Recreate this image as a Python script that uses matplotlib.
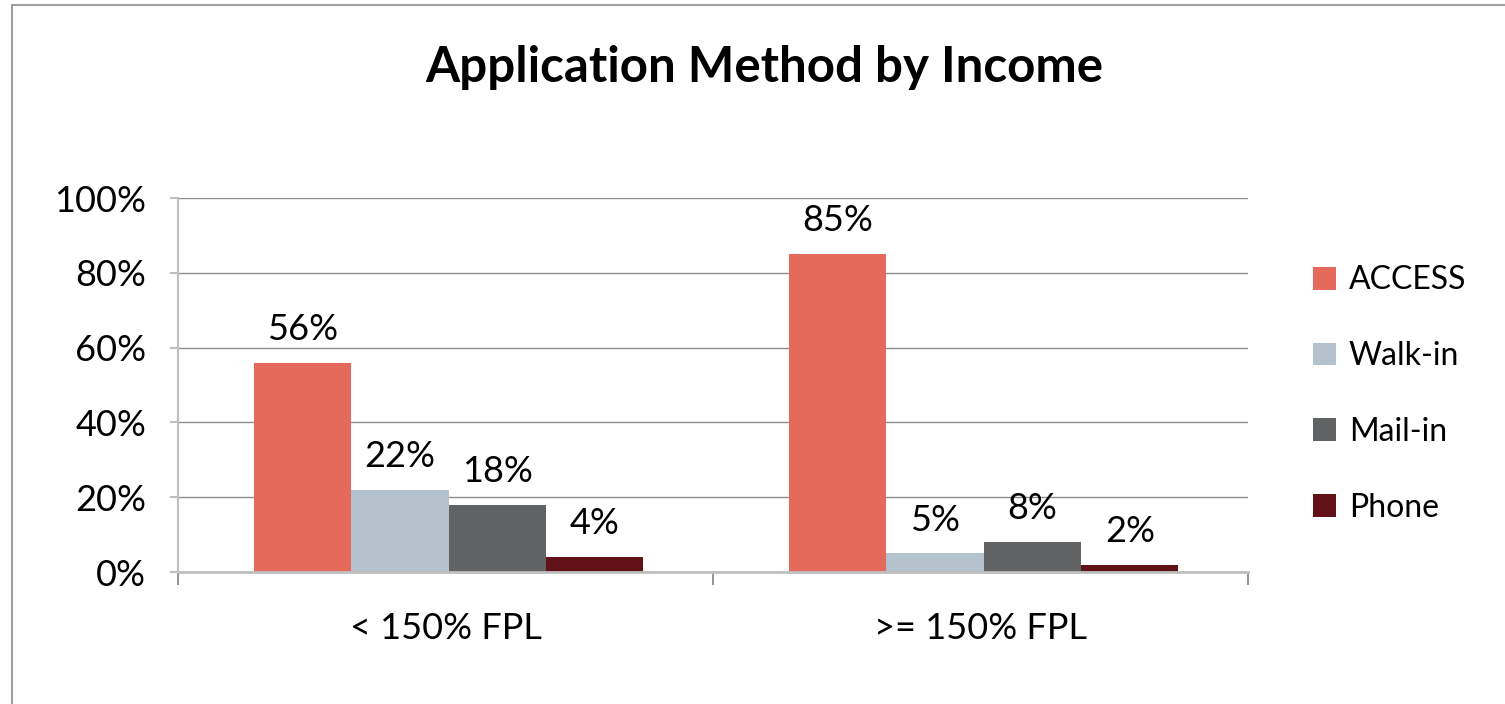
import numpy as np
import matplotlib
matplotlib.use("Agg")
import matplotlib.pyplot as plt
from matplotlib.patches import Rectangle

plt.rcParams['font.family'] = ['Lato', 'DejaVu Sans']

# data
groups = ["< 150% FPL", ">= 150% FPL"]
methods = ["ACCESS", "Walk-in", "Mail-in", "Phone"]
access = [0.56, 0.85]
walk_in = [0.22, 0.05]
mail_in = [0.18, 0.08]
phone = [0.04, 0.02]
colors = ["#E66A5B", "#B4C2CE", "#616264", "#621216"]

series = [access, walk_in, mail_in, phone]

fig = plt.figure(figsize=(15.05, 7.04), dpi=100)
ax = fig.add_axes([178/1505, 1-572/704, (1248-178)/1505, (572-198)/704])

# chart border (only left and top visible in the picture)
fig.patches.append(Rectangle((12/1505, -0.1), 1.2, 1-5/704+0.1, transform=fig.transFigure,
                             fill=False, edgecolor="#A0A0A0", linewidth=1.5))

x = np.arange(len(groups))
w = 0.182
for i, (vals, c, name) in enumerate(zip(series, colors, methods)):
    pos = x + (i - 1.5) * w + 0.006
    bars = ax.bar(pos, vals, width=w, color=c, label=name, zorder=3)
    for b, v in zip(bars, vals):
        ax.annotate(f"{v*100:.0f}%", (b.get_x() + b.get_width()/2, v),
                    xytext=(0, 12), textcoords="offset points",
                    ha="center", va="bottom", fontsize=26)

ax.set_ylim(0, 1)
ax.set_xlim(-0.5, 1.5)
ax.set_yticks(np.arange(0, 1.01, 0.2))
ax.set_yticklabels([f"{t*100:.0f}%" for t in np.arange(0, 1.01, 0.2)], fontsize=26)
ax.set_xticks(x)
ax.set_xticklabels(groups, fontsize=26)
ax.set_xticks([-0.5, 0.5, 1.5], minor=True)
ax.tick_params(axis="x", which="major", length=0, pad=29)
ax.tick_params(axis="x", which="minor", length=9, color="#808080", width=1.2)
ax.tick_params(axis="y", length=6, color="#BFBFBF", width=1.5, pad=17)

ax.grid(axis="y", color="#8C8C8C", linewidth=1, zorder=0)
for s in ["top", "right"]:
    ax.spines[s].set_visible(False)
ax.spines["left"].set_color("#BFBFBF")
ax.spines["left"].set_linewidth(1.5)
ax.spines["bottom"].set_color("#BFBFBF")
ax.spines["bottom"].set_linewidth(2)
ax.spines["bottom"].set_zorder(4)

fig.text(764/1505, 1-67/704, "Application Method by Income", ha="center", va="center",
         fontsize=35.5, fontweight="bold")

ax.legend(loc="center left", bbox_to_anchor=(1313/1505, 1-394/704),
          bbox_transform=fig.transFigure, frameon=False, fontsize=23,
          handlelength=0.72, handleheight=0.72, labelspacing=1.43,
          handletextpad=0.4, borderpad=0, borderaxespad=0)

fig.savefig("out.png", dpi=100)
